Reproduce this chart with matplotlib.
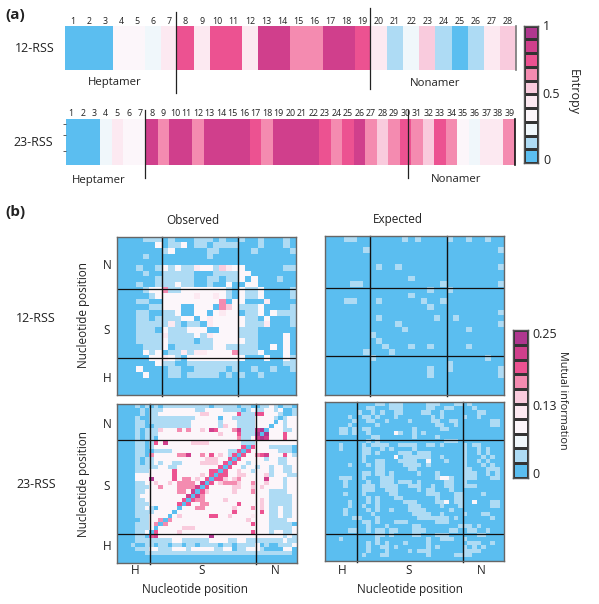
import numpy as np
import matplotlib
matplotlib.use('Agg')
import matplotlib.pyplot as plt
from matplotlib.colors import ListedColormap, BoundaryNorm

plt.rcParams['font.family'] = ['Open Sans', 'DejaVu Sans']

# levels index into this palette (0 = lowest, 9 = highest)
palette = ['#5BBEF0', '#AEDBF4', '#F0F7FB', '#FCF6FA', '#FCE9F1',
           '#F9CBDD', '#F48BB0', '#EC5291', '#D03F8C', '#B0378F']

entropy_12 = [0, 0, 0, 3, 3, 2, 4, 7, 4, 7, 7, 4, 8, 8, 6, 6, 8, 8, 7, 4, 1, 2, 5, 1, 0, 1, 4, 5]
entropy_23 = [0, 0, 0, 2, 4, 3, 3, 8, 6, 8, 8, 6, 8, 8, 8, 8, 7, 6, 8, 8, 8, 8, 7, 6, 7, 8,
              6, 5, 6, 7, 6, 5, 7, 6, 3, 2, 4, 4, 6]

# mutual information levels, top row first, blocks of ten columns
observed_12 = [
    '0000111010 0011101001 00100010',
    '0000003011 3011011110 00100010',
    '0000000130 0000110000 01000001',
    '0000100000 0000100000 00000000',
    '0000000000 0000000000 00000000',
    '0001001313 1143315433 00000011',
    '0000100111 1100011113 30000000',
    '0000001111 1100110113 03000100',
    '0001001113 1100100300 33000000',
    '0000133611 3333333103 11300001',
    '0000013333 3343343103 11300001',
    '0001100333 3333336033 00040000',
    '0000011333 0033306531 11300001',
    '0001100113 0033034330 11303111',
    '0001101111 3303433333 11030001',
    '0001111141 0110433333 11140001',
    '0001110311 1333003331 11000000',
    '0001111411 1131433331 11000030',
    '0001111311 1101133333 11000030',
    '0000111301 1111133111 11003030',
    '0000313011 4144333361 11300030',
    '0000033431 0333333333 00030031',
    '0000003110 0111111110 00000011',
    '0003000011 0011111010 01001001',
    '0000300011 0111110101 00100000',
    '0000000000 0000000000 00000000',
    '0000000000 0000000000 00000000',
    '0000000000 0000000000 00000000',
]

observed_23 = [
    '0000101010 1111111111 0111110110 011310110',
    '0000010111 3333333113 3331111013 113313001',
    '0000010113 3333333355 3333337111 773331001',
    '0000100111 1111111333 3303311111 333310133',
    '0000110111 1111113333 3313331111 333303133',
    '0000110011 1111113333 3315331111 333033133',
    '0000101115 3336363353 8733368111 890333113',
    '0000101113 3333333333 3353337111 909333733',
    '0000101103 3333333333 3333336113 898333733',
    '0000110173 8333335555 3333333111 333333333',
    '0000110133 3333333333 3333333707 333111110',
    '0000110011 1133333333 3333117073 333331110',
    '0000110633 3336683363 7353170733 678333731',
    '0000101133 3333333335 5533707333 331331133',
    '0000101131 3311333355 5537073313 333331133',
    '0000111113 3113333333 3370733133 133133113',
    '0000111333 3373333333 7707335331 333133113',
    '0000333333 3373333353 7077335533 335133311',
    '0000333933 3373663537 0775356333 338333133',
    '0000113353 3536666380 7356665336 335333133',
    '0000111336 3336666807 3333355335 353333133',
    '0000113333 3336638075 3333353336 333111133',
    '0000133333 3333380863 3333333333 333111113',
    '0000113333 3333707663 3335333333 353111113',
    '0000111333 3337073366 3333337333 353111113',
    '0000113103 3330333663 3333353336 353113113',
    '0000111133 3303333333 3333373333 373113113',
    '0000111333 3035333333 7733533334 333113113',
    '0000011336 0633333333 3333333353 333111133',
    '0000111360 6333333333 3333333337 333111110',
    '0000111303 3333555333 3333333333 333111113',
    '0000113073 3335333333 3333333337 333133113',
    '0000110783 3333333333 9333333333 333333131',
    '0000111111 1133111111 3333113311 111111311',
    '0001001101 1011011011 1101101111 301001113',
    '0000111331 1133313333 3113301133 310000330',
    '0000001111 1111111111 1111111111 111111110',
    '0000000000 0000000000 0000000000 000000000',
    '0000000000 0000000000 0000000000 000000000',
]

# expected panels are nearly flat: columns at level 1 listed per row
expected_12 = [
    [3, 4, 12, 14, 19, 22, 25], [], [6, 27], [], [], [8, 11, 27], [], [13],
    [4, 5, 18, 27], [16, 19], [13], [3, 4, 8, 15, 18], [16], [27], [8, 17, 20],
    [11, 27], [12, 22], [7], [8], [9, 13, 16, 22], [6, 10], [7, 25], [19], [16, 19, 27],
    [16, 27], [], [], [],
]

expected_23 = [
    [11, 12, 14, 15, 16, 22, 23, 24, 28, 29, 31],
    [9, 10, 14, 15, 16, 22, 23, 26, 27, 32],
    [7, 10, 12, 15, 16, 21, 22, 25, 33, 34],
    [5, 8, 9, 11, 15, 23, 25, 30, 33],
    [6, 9, 10, 13, 18, 23, 24, 27, 28, 36, 37],
    [5, 11, 24, 25, 28, 36, 37],
    [3, 4, 6, 8, 9, 19, 25, 26],
    [3, 4, 6, 9, 16, 19, 21],
    [10, 11, 19, 24],
    [9, 11, 26, 27, 28],
    [3, 8, 10, 11, 12, 13, 16, 17, 18, 19, 22, 23, 25, 30, 32, 33],
    [3, 8, 9, 12, 14, 19, 30, 33, 35],
    [8, 9, 11, 16, 17, 18, 20, 21, 22, 30, 33, 35],
    [8, 17, 18, 19, 20, 21, 22, 25, 30, 34, 36],
    [8, 11, 12, 16, 17, 18, 19, 26, 30, 33, 35],
    [5, 9, 11, 12, 17, 18, 19, 20, 22, 30, 34, 36],
    [11, 12, 18, 19, 30, 31, 35, 36, 37],
    [8, 9, 11, 12, 14, 20, 24, 30, 31, 32, 35, 37],
    [3, 4, 5, 8, 12, 13, 14, 24, 27, 30, 31, 32, 36, 37],
    [4, 9, 12, 13, 14, 16, 17, 18, 20, 26, 27, 30],
    [4, 8, 9, 10, 12, 13, 14, 15, 18, 19, 20, 23, 26, 27, 30, 31, 32],
    [8, 9, 10, 13, 14, 15, 20, 22, 23, 27],
    [4, 8, 14, 15, 22, 23, 24, 28, 29, 34],
    [9, 11, 15, 16, 24, 28, 29],
    [5, 9, 11, 17, 18, 19, 24, 25, 28, 29, 36, 37],
    [5, 8, 11, 18, 19, 20, 25, 29, 36, 37],
    [4, 9, 11, 14, 18, 19, 20, 21, 27],
    [4, 10, 19, 20, 21, 22, 25, 30, 34, 35],
    [6, 7, 11, 20, 21, 22, 23, 24, 25, 26, 28, 36],
    [8, 9, 11, 15, 16, 17, 24, 25, 26],
    [9, 13, 19, 20, 29, 30, 31, 33],
    [5, 6, 9, 11, 12, 14, 15, 19, 20, 21, 27, 28, 31, 32, 35],
    [11, 12, 14, 19, 20, 24, 25, 26, 33, 34],
    [3, 11, 22, 25, 26, 27, 30],
    [9, 11, 13, 17, 22, 31, 32, 33, 36],
    [9, 12, 13, 15, 22, 24, 30, 32, 34],
    [9, 13, 18, 20, 21, 22, 30, 31, 32, 33],
    [8, 12, 13, 22, 28, 29, 30, 31],
    [],
]
# (row, column) cells of the 23-RSS expected panel that reach level 3
expected_23_white = [(7, 15), (13, 15), (14, 22), (18, 25), (18, 26), (24, 26), (24, 32)]

W, H = 599, 604
fig = plt.figure(figsize=(W / 100, H / 100), dpi=100)
cmap = ListedColormap(palette)
norm = BoundaryNorm(np.arange(-0.5, 10.5), 10)


def px_axes(x0, y0, x1, y1):
    ax = fig.add_axes([x0 / W, 1 - y1 / H, (x1 - x0) / W, (y1 - y0) / H])
    ax.set_xticks([])
    ax.set_yticks([])
    return ax


def label(x, y, s, size=9, **kw):
    kw.setdefault('ha', 'center')
    kw.setdefault('va', 'center')
    fig.text(x / W, 1 - y / H, s, fontsize=size, color='#222222', **kw)


def parse(rows):
    return np.array([[int(c) for c in r.replace(' ', '')] for r in rows])


def from_lists(rows):
    m = np.zeros((len(rows), len(rows)), dtype=int)
    for i, cols in enumerate(rows):
        m[i, cols] = 1
    return m


def entropy_strip(box, values, seps, sep_spans, edge_color, tick_y):
    ax = px_axes(*box)
    ax.pcolormesh(np.array([values]), cmap=cmap, norm=norm)
    for s in ax.spines.values():
        s.set_visible(False)
    trans = ax.get_xaxis_transform()
    for v, (lo, hi) in zip(seps, sep_spans):
        ax.plot([v, v], [lo, hi], color='#222222', lw=0.9, clip_on=False, transform=trans)
    ax.plot([len(values)] * 2, [0, 1], color=edge_color, lw=1.2, clip_on=False, transform=trans)
    for i in range(len(values)):
        ax.text(i + 0.5, tick_y, str(i + 1), transform=trans, ha='center', va='center',
                fontsize=6.4, color='#222222')
    return ax


def matrix_panel(box, m, vlines, hlines):
    ax = px_axes(*box)
    n = m.shape[0]
    ax.pcolormesh(m, cmap=cmap, norm=norm)
    ax.set_xlim(0, n)
    ax.set_ylim(n, 0)
    for v in vlines:
        ax.plot([v, v], [0, n * 1.008], color='#111111', lw=1.0, clip_on=False)
    for h in hlines:
        ax.plot([0, n], [h, h], color='#111111', lw=0.9)
    for s in ax.spines.values():
        s.set_color('#666666')
        s.set_linewidth(1.0)
    return ax


def colorbar(box):
    ax = px_axes(*box)
    ax.pcolormesh(np.arange(10).reshape(-1, 1), cmap=cmap, norm=norm,
                  edgecolors='#333333', linewidth=0.8)
    ax.set_xlim(0, 1)
    ax.set_ylim(0, 10)
    for s in ax.spines.values():
        s.set_color('#555555')
        s.set_linewidth(1.0)


# panel a
entropy_strip((64.5, 26, 516, 70), entropy_12, [6.93, 18.92], [(-0.52, 1.32), (-0.43, 1.41)], '#777777', 1.1)
ax23 = entropy_strip((65.5, 119, 515, 165), entropy_23, [6.94, 29.7], [(-0.28, 1.2), (-0.28, 1.2)], '#111111', 1.13)
ax23.set_yticks([0.3, 0.65, 0.9])
ax23.set_yticklabels([])
ax23.tick_params(axis='y', length=2, width=0.6, color='#444444')

colorbar((524.3, 25.5, 538.3, 163))
colorbar((512.7, 330, 528, 478))

label(5, 15, '(a)', 11, ha='left', fontweight='bold')
label(5, 212, '(b)', 11, ha='left', fontweight='bold')
label(35, 49, '12-RSS')
label(33, 143, '23-RSS')
label(114.5, 83, 'Heptamer', 8.2)
label(435, 83, 'Nonamer', 8.2)
label(99, 180, 'Heptamer', 8.2)
label(456, 180, 'Nonamer', 8.2)
label(546, 27, '1')
label(551, 94, '0.5')
label(547, 160, '0')
label(573, 92, 'Entropy', rotation=270)

# panel b
matrix_panel((117, 236.7, 296, 394.7), parse(observed_12), [7, 19], [9.27, 21.5])
matrix_panel((324.7, 236, 504.3, 394.7), from_lists(expected_12), [7.1, 19], [9.1, 21.1])
matrix_panel((117, 403.7, 296.7, 563), parse(observed_23), [7.15, 30.1], [9, 31.8])
m23 = from_lists(expected_23)
for r, c in expected_23_white:
    m23[r, c] = 3
matrix_panel((324.7, 402.3, 504.3, 561), m23, [7.1, 30], [9.3, 32.4])

label(193, 220, 'Observed', 8.5)
label(398, 220, 'Expected', 8.5)
for y, s in zip([266, 330, 378], 'NSH'):
    label(107, y, s, 8.5)
for y, s in zip([425, 487, 547], 'NSH'):
    label(107, y, s, 8.5)
label(36, 318, '12-RSS')
label(36, 485, '23-RSS')
label(84, 315, 'Nucleotide position', 8.5, rotation=90)
label(84, 484, 'Nucleotide position', 8.5, rotation=90)
for x, s in zip([135, 202, 275], 'HSN'):
    label(x, 571, s, 8.5)
for x, s in zip([342, 409, 481], 'HSN'):
    label(x, 571, s, 8.5)
label(195, 590, 'Nucleotide position', 8.5)
label(410, 590, 'Nucleotide position', 8.5)
label(532, 334, '0.25', ha='left')
label(532, 406, '0.13', ha='left')
label(532, 474, '0', ha='left')
label(563, 400, 'Mutual information', 7.8, rotation=270)

fig.savefig('out.png', dpi=100)
